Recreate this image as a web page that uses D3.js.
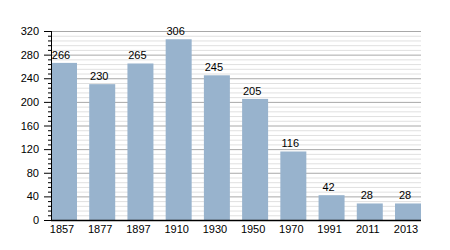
<!DOCTYPE html>
<html>
<head>
<meta charset="utf-8">
<script src="https://cdn.jsdelivr.net/npm/d3@7"></script>
<style>
  body { margin: 0; background: #fff; }
  svg { display: block; font-family: "Liberation Sans", Arial, sans-serif; }
</style>
</head>
<body>
<div id="chart"></div>
<script>
// population by census year
const years = ['1857', '1877', '1897', '1910', '1930', '1950', '1970', '1991', '2011', '2013'];
const population = [266, 230, 265, 306, 245, 205, 116, 42, 28, 28];
const yTicks = [0, 40, 80, 120, 160, 200, 240, 280, 320];

var margin = { top: 31, right: 29, bottom: 30, left: 51 },
    width = 450 - margin.left - margin.right,
    height = 250 - margin.top - margin.bottom;

var svg = d3.select('#chart')
    .append('svg')
    .attr('width', 450)
    .attr('height', 250)
    .append('g')
    .attr('transform', 'translate(' + margin.left + ',' + margin.top + ')');

var x = d3.scaleBand()
    .domain(years)
    .range([0, width])
    .paddingInner(0.32)
    .paddingOuter(0);

var y = d3.scaleLinear()
    .domain([0, 320])
    .range([height, 0]);

// minor grid every 8
var minor = d3.range(0, 321, 8).filter(v => v % 40 !== 0);
svg.append('g')
    .selectAll('line')
    .data(minor)
    .enter().append('line')
    .attr('x1', 0).attr('x2', width)
    .attr('y1', d => y(d) + 0.5).attr('y2', d => y(d) + 0.5)
    .attr('stroke', '#e0e0e0');

// major grid
svg.append('g')
    .selectAll('line')
    .data(yTicks.slice(1))
    .enter().append('line')
    .attr('x1', 0).attr('x2', width)
    .attr('y1', d => y(d) + 0.5).attr('y2', d => y(d) + 0.5)
    .attr('stroke', '#a8a8a8');

// bars
svg.selectAll('rect.bar')
    .data(population)
    .enter().append('rect')
    .attr('class', 'bar')
    .attr('x', (d, i) => x(years[i]))
    .attr('y', d => y(d))
    .attr('width', x.bandwidth())
    .attr('height', d => height - y(d))
    .attr('fill', '#98b3cd');

// value labels
svg.selectAll('text.val')
    .data(population)
    .enter().append('text')
    .attr('class', 'val')
    .attr('x', (d, i) => x(years[i]) + x.bandwidth() / 2 - 3)
    .attr('y', d => y(d) - 4)
    .attr('text-anchor', 'middle')
    .style('font-size', '11px')
    .attr('fill', '#000')
    .text(d => d);

// y axis with minor ticks
var yAxisMinor = svg.append('g')
    .call(d3.axisLeft(y).tickValues(minor).tickSize(3).tickFormat(''));
yAxisMinor.select('.domain').remove();

var yAxis = svg.append('g')
    .call(d3.axisLeft(y).tickValues(yTicks).tickSize(7).tickPadding(5));
yAxis.selectAll('text').style('font-size', '11px').attr('fill', '#000');
yAxis.selectAll('line').attr('stroke', '#000');
yAxis.select('.domain').attr('d', 'M0.5,' + y(320) + 'V' + (height + 0.5));

// x axis
var xAxis = svg.append('g')
    .attr('transform', 'translate(0,' + height + ')')
    .call(d3.axisBottom(x).tickSize(0).tickPadding(5));
xAxis.select('.domain').attr('d', 'M0,0.5H' + width).attr('stroke', '#000').attr('stroke-width', 1.5);
xAxis.selectAll('text').style('font-size', '11px').attr('fill', '#000')
    .attr('dx', -2);
</script>
</body>
</html>
